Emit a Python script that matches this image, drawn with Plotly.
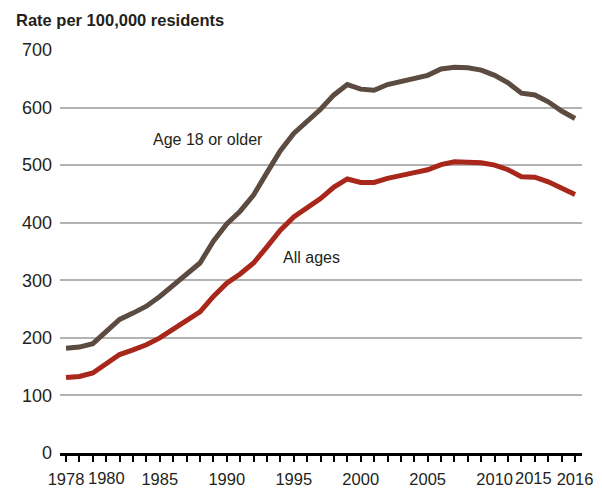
import plotly.graph_objects as go

years = list(range(1978, 2017))
adult_rate = [182, 184, 190, 212, 232, 243, 255, 272, 291, 311, 330, 368, 398, 420, 448, 487,
              525, 555, 575, 597, 622, 640, 632, 630, 640, 646, 650, 656, 667, 670, 669, 665,
              656, 643, 625, 622, 610, 594, 581]
all_rate = [131, 133, 139, 154, 171, 179, 188, 200, 215, 229, 245, 272, 295, 311, 330, 358,
            387, 410, 425, 442, 462, 476, 470, 470, 477, 483, 487, 492, 501, 506, 506, 504,
            500, 492, 480, 479, 471, 459, 449]
y_ticks = [0, 100, 200, 300, 400, 500, 600, 700]
x_label_years = [1978, 1980, 1985, 1990, 1995, 2000, 2005, 2010, 2015, 2016]
# labels nudged sideways (in pixels) so that crowded years do not collide
x_label_shift = {1980: 14, 2015: -28}

FONT = "Liberation Sans, Arial, sans-serif"
TXT = "#231f20"
XFS = 16.5

ticktext = [str(yv) if (yv in x_label_years and yv not in x_label_shift) else ""
            for yv in years]

fig = go.Figure()
fig.add_trace(go.Scatter(x=years, y=adult_rate, mode="lines",
                         line=dict(color="#5b4b40", width=5), name="Age 18 or older"))
fig.add_trace(go.Scatter(x=years, y=all_rate, mode="lines",
                         line=dict(color="#a8261a", width=5), name="All ages"))

fig.add_annotation(x=1988.6, y=544, xref="x", yref="y", text="Age 18 or older",
                   showarrow=False, font=dict(family=FONT, size=16, color=TXT))
fig.add_annotation(x=1996.3, y=340, xref="x", yref="y", text="All ages",
                   showarrow=False, font=dict(family=FONT, size=16, color=TXT))

for yv, dx in x_label_shift.items():
    fig.add_annotation(x=yv, y=0, xref="x", yref="paper", text=str(yv),
                       xshift=dx, yshift=-25, yanchor="middle", showarrow=False,
                       font=dict(family=FONT, size=XFS, color=TXT))

fig.update_layout(
    width=602, height=492,
    margin=dict(l=52, r=28, t=42, b=35),
    plot_bgcolor="white", paper_bgcolor="white",
    showlegend=False,
    font=dict(family=FONT, size=18, color=TXT),
    title=dict(text="<b>Rate per 100,000 residents</b>", x=8/602, xanchor="left",
               y=1 - 12/492, yanchor="middle", xref="container", yref="container",
               font=dict(family=FONT, size=16.5, color=TXT)),
    xaxis=dict(range=[1977.55, 2016.52], tickvals=years, ticktext=ticktext,
               ticks="outside", ticklen=6, tickwidth=2, tickcolor="black",
               showline=True, linecolor="black", linewidth=2.5,
               showgrid=False, zeroline=False, tickangle=0,
               ticklabelstandoff=3,
               tickfont=dict(family=FONT, size=XFS, color=TXT)),
    yaxis=dict(range=[0, 700], tickvals=y_ticks, showgrid=True, gridcolor="#b3b3b3",
               gridwidth=1.5, zeroline=False, showline=False, ticks="",
               ticklabelstandoff=7,
               tickfont=dict(family=FONT, size=18, color=TXT)),
)

fig.write_html("out.html")
